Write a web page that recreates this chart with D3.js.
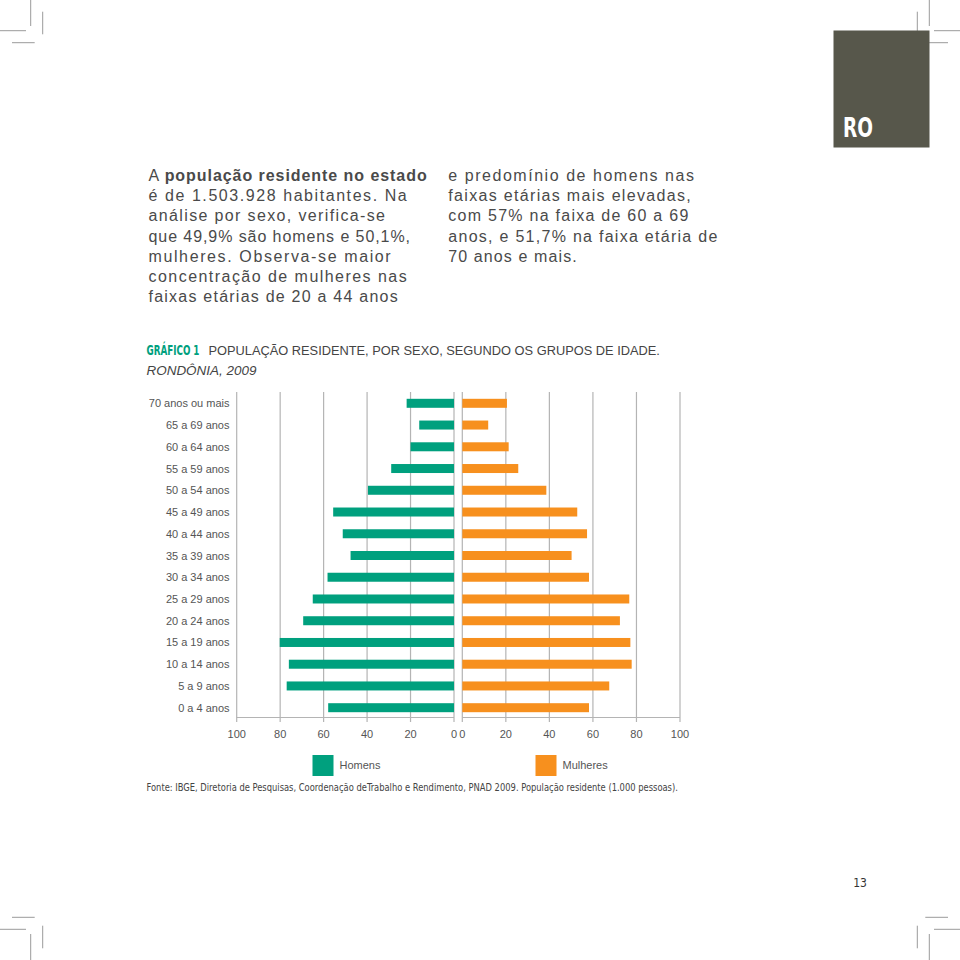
<!DOCTYPE html>
<html><head><meta charset="utf-8">
<script src="https://cdn.jsdelivr.net/npm/d3@7"></script>
<style>body{margin:0;background:#fff}svg{display:block}</style>
</head><body>
<script>
const categories = ["70 anos ou mais","65 a 69 anos","60 a 64 anos","55 a 59 anos","50 a 54 anos","45 a 49 anos","40 a 44 anos","35 a 39 anos","30 a 34 anos","25 a 29 anos","20 a 24 anos","15 a 19 anos","10 a 14 anos","5 a 9 anos","0 a 4 anos"];
const homens   = [21.8,16.0,20.0,28.9,39.6,55.6,51.2,47.6,58.2,65.0,69.4,80.2,76.0,77.0,57.9];
const mulheres = [20.5,11.9,21.3,25.7,38.6,52.8,57.3,50.2,58.2,76.7,72.4,77.2,77.8,67.5,58.2];
const tickValues = [0,20,40,60,80,100];
const seriesNames = ["Homens","Mulheres"];
const colors = ["#00a07e","#f7901e"];

const leftText = [
  [["A ",false],["população residente no estado",true]],
  [["é de 1.503.928 habitantes. Na",false]],
  [["análise por sexo, verifica-se",false]],
  [["que 49,9% são homens e 50,1%,",false]],
  [["mulheres. Observa-se maior",false]],
  [["concentração de mulheres nas",false]],
  [["faixas etárias de 20 a 44 anos",false]]
];
const leftEnds = [426.7,406.7,385,410,390.7,406.7,397.7];
const rightText = ["e predomínio de homens nas","faixas etárias mais elevadas,","com 57% na faixa de 60 a 69","anos, e 51,7% na faixa etária de","70 anos e mais."];
const rightEnds = [694,690.7,688.3,717.3,576.7];

const W=960,H=960;
const svg = d3.select("body").append("svg").attr("width",W).attr("height",H);
const sans = "'Liberation Sans', Arial, Helvetica, sans-serif";
const narrow = "'Liberation Sans Narrow','DejaVu Sans Condensed', 'Liberation Sans', sans-serif";

// helper: text squeezed horizontally to a target width via transform
function fitText(x, yy, width, str, attrs){
  const g = svg.append("g");
  const t = g.append("text").attr("x",0).attr("y",0).text(str);
  Object.entries(attrs).forEach(([k,v])=>t.attr(k,v));
  const nat = t.node().getComputedTextLength();
  g.attr("transform",`translate(${x},${yy}) scale(${width/nat},1)`);
  return t;
}

// crop marks
const marks = [
  [30.7,0,30.7,26],[0,30.7,26,30.7],[42.7,11.7,42.7,34.3],[12,42.7,34.7,42.7]
];
const cm = svg.append("g").attr("stroke","#9a9a9a").attr("stroke-width",1);
marks.forEach(m=>{
  [[false,false],[true,false],[false,true],[true,true]].forEach(([fx,fy])=>{
    const X=v=>fx?W-v:v, Y=v=>fy?H-v:v;
    cm.append("line").attr("x1",X(m[0])).attr("y1",Y(m[1])).attr("x2",X(m[2])).attr("y2",Y(m[3]));
  });
});

// RO box
svg.append("rect").attr("x",833.5).attr("y",30.5).attr("width",96).attr("height",117).attr("fill","#57574b");
fitText(843,137,30,"RO",{"font-family":narrow,"font-weight":"bold","font-size":26,"fill":"#fff"});

// paragraphs
leftText.forEach((parts,i)=>{
  const t = svg.append("text").attr("x",148.5).attr("y",181+i*20.2).attr("font-family",sans)
    .attr("font-size",16).attr("fill","#4a4a4a").attr("textLength",leftEnds[i]-148.5).attr("lengthAdjust","spacing");
  parts.forEach(p=>t.append("tspan").attr("font-weight",p[1]?"bold":"normal").text(p[0]));
});
rightText.forEach((s,i)=>{
  svg.append("text").attr("x",448.3).attr("y",181+i*20.2).attr("font-family",sans)
    .attr("font-size",16).attr("fill","#4a4a4a").attr("textLength",rightEnds[i]-448.3).attr("lengthAdjust","spacing").text(s);
});

// chart title
fitText(146.5,355,53,"GRÁFICO 1",{"font-family":narrow,"font-weight":"bold","font-size":13.5,"fill":"#00a07e"});
fitText(208.5,355,452,"POPULAÇÃO RESIDENTE, POR SEXO, SEGUNDO OS GRUPOS DE IDADE.",{"font-family":sans,"font-size":13.3,"fill":"#444"});
fitText(146.5,375,110,"RONDÔNIA, 2009",{"font-family":sans,"font-style":"italic","font-size":13.3,"fill":"#444"});

// scales
const xL = d3.scaleLinear().domain([0,100]).range([454,236.7]);
const xR = d3.scaleLinear().domain([0,100]).range([462.3,680]);
const y = d3.scalePoint().domain(categories).range([403.3,707.7]);
const barH = 9;
const gridTop = 392, baseY = 717.5, tickBottom = 722;

const grid = svg.append("g").attr("stroke","#b4b4b4").attr("stroke-width",1.2);
[xL,xR].forEach(sc=>{
  tickValues.forEach(v=>{
    grid.append("line").attr("x1",sc(v)).attr("x2",sc(v)).attr("y1",gridTop).attr("y2",tickBottom);
  });
  grid.append("line").attr("x1",sc(0)).attr("x2",sc(100)).attr("y1",baseY).attr("y2",baseY);
});

// bars
svg.append("g").selectAll("rect").data(categories).join("rect")
  .attr("x",(d,i)=>xL(homens[i])).attr("width",(d,i)=>xL(0)-xL(homens[i]))
  .attr("y",d=>y(d)-barH/2).attr("height",barH).attr("fill",colors[0]);
svg.append("g").selectAll("rect").data(categories).join("rect")
  .attr("x",xR(0)).attr("width",(d,i)=>xR(mulheres[i])-xR(0))
  .attr("y",d=>y(d)-barH/2).attr("height",barH).attr("fill",colors[1]);

// category labels
svg.append("g").selectAll("text").data(categories).join("text")
  .attr("x",229.5).attr("y",d=>y(d)+4).attr("text-anchor","end")
  .attr("font-family",sans).attr("font-size",11).attr("fill","#555").text(d=>d);

// tick labels
[xL,xR].forEach(sc=>{
  svg.append("g").selectAll("text").data(tickValues).join("text")
    .attr("x",d=>sc(d)).attr("y",738).attr("text-anchor","middle")
    .attr("font-family",sans).attr("font-size",11).attr("fill","#555").text(d=>d);
});

// legend
const legX = [312.5,535.5];
seriesNames.forEach((n,i)=>{
  svg.append("rect").attr("x",legX[i]).attr("y",755).attr("width",21).attr("height",21).attr("fill",colors[i]);
  svg.append("text").attr("x",legX[i]+27).attr("y",769).attr("font-family",sans).attr("font-size",11)
    .attr("fill","#555").text(n);
});

// footer
fitText(146.5,791,532,"Fonte: IBGE, Diretoria de Pesquisas, Coordenação deTrabalho e Rendimento, PNAD 2009. População residente (1.000 pessoas).",
  {"font-family":narrow,"font-size":10.5,"fill":"#444"});

// page number
svg.append("text").attr("x",860).attr("y",887).attr("text-anchor","middle").attr("font-family",narrow)
  .attr("font-size",12).attr("fill","#333").text("13");
</script>
</body></html>
